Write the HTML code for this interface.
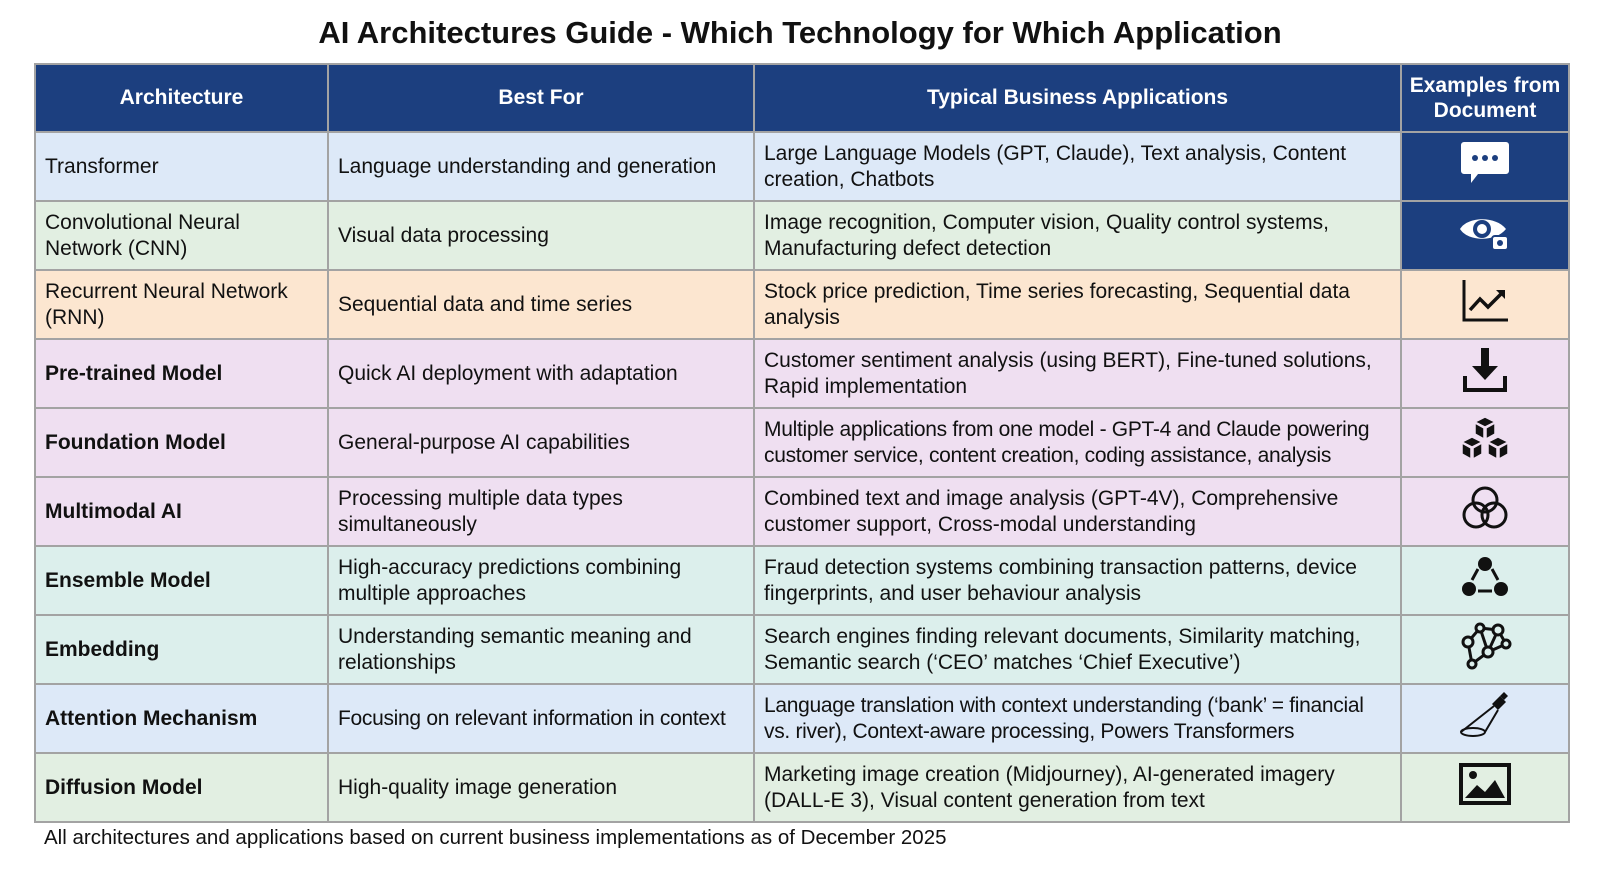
<!DOCTYPE html>
<html><head><meta charset="utf-8"><style>
*{margin:0;padding:0;box-sizing:border-box}
body{width:1600px;height:873px;background:#fff;font-family:"Liberation Sans",Arial,sans-serif;position:relative;overflow:hidden;color:#111}
h1{position:absolute;top:15px;left:0;width:1600px;text-align:center;font-size:31px;font-weight:bold}
table{position:absolute;left:34px;top:63px;width:1534px;border-collapse:collapse;table-layout:fixed}
td,th{border:2px solid #a3a3a3;font-size:21px;line-height:25.5px;padding:0 4px 0 9px;vertical-align:middle;overflow:hidden}
th{background:#1c3f7f;color:#fff;height:68px;text-align:center;padding:0 2px}
td{height:69px}
td.i{text-align:center;padding:0}
.b{background:#dde9f8}.g{background:#e2efe2}.o{background:#fce6d0}.p{background:#efdff1}.t{background:#dcefec}
.n{background:#1c3f7f}
.bold{font-weight:bold}
.foot{position:absolute;left:44px;top:826px;font-size:20.5px}
</style></head><body>
<h1>AI Architectures Guide - Which Technology for Which Application</h1>
<table>
<colgroup><col style="width:293px"><col style="width:426px"><col style="width:647px"><col style="width:168px"></colgroup>
<tr><th>Architecture</th><th>Best For</th><th>Typical Business Applications</th><th>Examples from Document</th></tr>
<tr class="b"><td>Transformer</td><td>Language understanding and generation</td><td>Large Language Models (GPT, Claude), Text analysis, Content creation, Chatbots</td><td class="i n"><svg width="50" height="46" viewBox="0 0 50 46"><path d="M4 2h42a3 3 0 0 1 3 3v26a3 3 0 0 1-3 3H18l-7 9v-9H4a3 3 0 0 1-3-3V5a3 3 0 0 1 3-3z" fill="#fff"/><circle cx="15" cy="18" r="3" fill="#1c3f7f"/><circle cx="25" cy="18" r="3" fill="#1c3f7f"/><circle cx="35" cy="18" r="3" fill="#1c3f7f"/></svg></td></tr>
<tr class="g"><td>Convolutional Neural<br>Network (CNN)</td><td>Visual data processing</td><td>Image recognition, Computer vision, Quality control systems, Manufacturing defect detection</td><td class="i n"><svg width="54" height="40" viewBox="0 0 54 40"><path d="M2 17C10 4 38 4 48 17C38 30 10 30 2 17z" fill="#fff"/><circle cx="24" cy="17" r="9" fill="#1c3f7f"/><circle cx="24" cy="17" r="5" fill="#fff"/><rect x="34" y="24" width="16" height="14" rx="3" fill="#fff" stroke="#1c3f7f" stroke-width="2"/><circle cx="42" cy="31" r="3" fill="#1c3f7f"/></svg></td></tr>
<tr class="o"><td>Recurrent Neural Network (RNN)</td><td>Sequential data and time series</td><td>Stock price prediction, Time series forecasting, Sequential data analysis</td><td class="i"><svg width="50" height="46" viewBox="0 0 50 46"><path d="M4 2v40h44" fill="none" stroke="#111" stroke-width="3"/><path d="M10 32l10-11 8 8 14-14" fill="none" stroke="#111" stroke-width="3.5"/><path d="M36 12h9v9z" fill="#111"/></svg></td></tr>
<tr class="p"><td class="bold">Pre-trained Model</td><td>Quick AI deployment with adaptation</td><td>Customer sentiment analysis (using BERT), Fine-tuned solutions, Rapid implementation</td><td class="i"><svg width="50" height="48" viewBox="0 0 50 48"><rect x="21" y="2" width="8" height="20" fill="#111"/><path d="M12 20h26L25 34z" fill="#111"/><path d="M5 30v14h40V30" fill="none" stroke="#111" stroke-width="4"/></svg></td></tr>
<tr class="p"><td class="bold">Foundation Model</td><td>General-purpose AI capabilities</td><td style="letter-spacing:-0.3px">Multiple applications from one model - GPT-4 and Claude powering customer service, content creation, coding assistance, analysis</td><td class="i"><svg width="54" height="48" viewBox="0 0 54 48"><g fill="#111" stroke="#efdff1" stroke-width="1.5"><path d="M27 2l10 5-10 5-10-5z"/><path d="M17 8l9 5v11l-9-5z"/><path d="M37 8l-9 5v11l9-5z"/><path d="M14 22l10 5-10 5-10-5z"/><path d="M40 22l10 5-10 5-10-5z"/><path d="M4 28l9 5v11l-9-5z"/><path d="M24 28l-9 5v11l9-5z"/><path d="M30 28l9 5v11l-9-5z"/><path d="M50 28l-9 5v11l9-5z"/></g></svg></td></tr>
<tr class="p"><td class="bold">Multimodal AI</td><td>Processing multiple data types simultaneously</td><td>Combined text and image analysis (GPT-4V), Comprehensive customer support, Cross-modal understanding</td><td class="i"><svg width="52" height="48" viewBox="0 0 52 48"><g fill="none" stroke="#111" stroke-width="3"><circle cx="26" cy="16" r="12"/><circle cx="17" cy="31" r="12"/><circle cx="35" cy="31" r="12"/></g></svg></td></tr>
<tr class="t"><td class="bold">Ensemble Model</td><td>High-accuracy predictions combining multiple approaches</td><td>Fraud detection systems combining transaction patterns, device fingerprints, and user behaviour analysis</td><td class="i"><svg width="50" height="44" viewBox="0 0 50 44"><circle cx="25" cy="9" r="7" fill="#111"/><circle cx="9" cy="34" r="7" fill="#111"/><circle cx="41" cy="34" r="7" fill="#111"/><path d="M18 14l-6 11M32 14l6 11M18 36h14" stroke="#111" stroke-width="3"/></svg></td></tr>
<tr class="t"><td class="bold">Embedding</td><td>Understanding semantic meaning and relationships</td><td>Search engines finding relevant documents, Similarity matching, Semantic search (‘CEO’ matches ‘Chief Executive’)</td><td class="i"><svg width="54" height="48" viewBox="0 0 54 48"><g fill="none" stroke="#111" stroke-width="3"><path d="M10 20L22 6L40 8L48 22L30 30L14 42L10 20M22 6L30 30L40 8"/><circle cx="10" cy="20" r="5" fill="#dcefec"/><circle cx="22" cy="6" r="4" fill="#dcefec"/><circle cx="40" cy="8" r="5" fill="#dcefec"/><circle cx="48" cy="22" r="4" fill="#dcefec"/><circle cx="30" cy="30" r="5" fill="#dcefec"/><circle cx="14" cy="42" r="4" fill="#dcefec"/></g></svg></td></tr>
<tr class="b"><td class="bold">Attention Mechanism</td><td style="letter-spacing:-0.3px;white-space:nowrap">Focusing on relevant information in context</td><td style="letter-spacing:-0.3px">Language translation with context understanding (‘bank’ = financial<br>vs. river), Context-aware processing, Powers Transformers</td><td class="i"><svg width="54" height="50" viewBox="0 0 54 50"><g stroke="#111" stroke-width="2" fill="none"><ellipse cx="15" cy="42" rx="12" ry="4"/><path d="M3 42L36 16M27 42L40 20"/></g><path d="M34 14l8-8 6 6-8 8z" fill="#111"/><path d="M42 6l4-4 4 4-4 4z" fill="#111"/></svg></td></tr>
<tr class="g"><td class="bold">Diffusion Model</td><td>High-quality image generation</td><td>Marketing image creation (Midjourney), AI-generated imagery (DALL-E 3), Visual content generation from text</td><td class="i"><svg width="52" height="42" viewBox="0 0 52 42"><rect x="2" y="2" width="48" height="38" fill="none" stroke="#111" stroke-width="4"/><circle cx="14" cy="12" r="4" fill="#111"/><path d="M6 35l12-13 8 7 10-12 10 18z" fill="#111"/></svg></td></tr>
</table>
<div class="foot">All architectures and applications based on current business implementations as of December 2025</div>
</body></html>
